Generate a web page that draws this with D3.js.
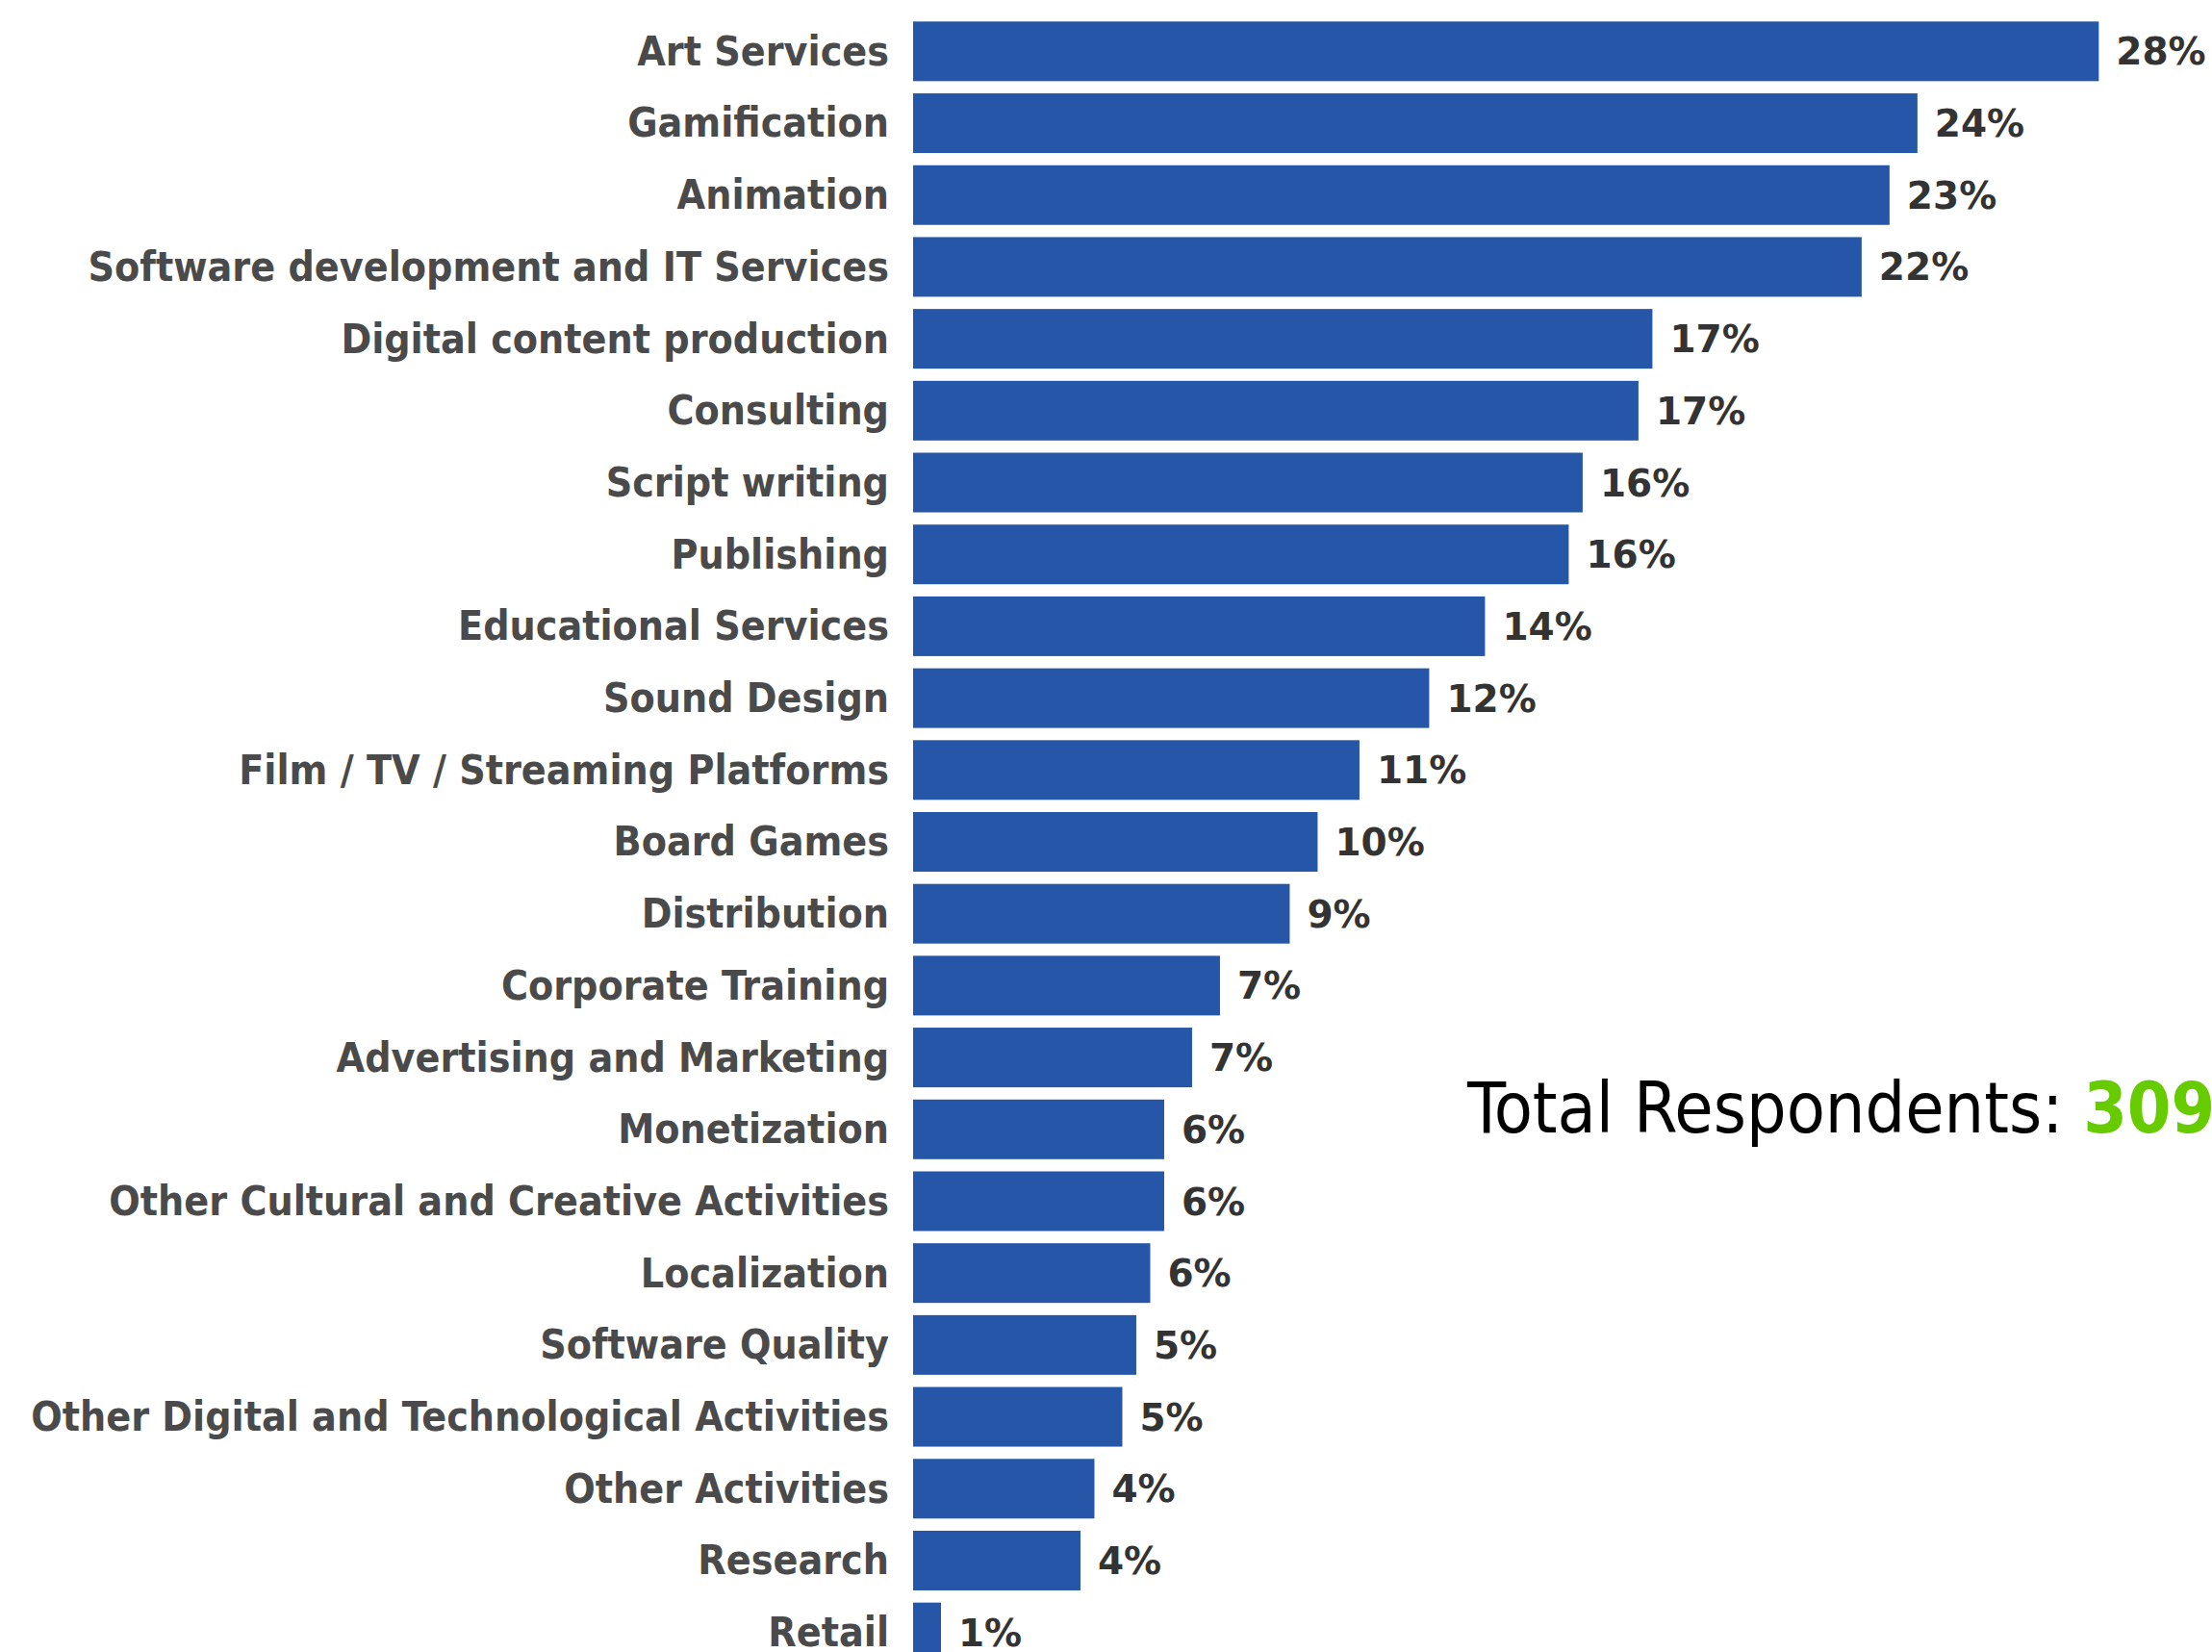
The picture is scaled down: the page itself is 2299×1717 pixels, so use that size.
<!DOCTYPE html>
<html>
<head>
<meta charset="utf-8">
<script src="https://cdn.jsdelivr.net/npm/d3@7"></script>
<style>
  html, body { margin: 0; padding: 0; background: #ffffff; overflow: hidden; }
  svg { display: block; }
  .cat { font-family: "DejaVu Sans", sans-serif; font-stretch: condensed; font-weight: bold; fill: #4a4a4a; }
  .val { font-family: "DejaVu Sans", sans-serif; font-weight: bold; fill: #333333; font-variant-numeric: slashed-zero; }
  .total { font-family: "DejaVu Sans", sans-serif; font-stretch: condensed; fill: #000000; font-variant-numeric: slashed-zero; }
</style>
</head>
<body>
<script>
// Activity areas of respondents, share of all respondents (%)
const categories = [
  "Art Services",
  "Gamification",
  "Animation",
  "Software development and IT Services",
  "Digital content production",
  "Consulting",
  "Script writing",
  "Publishing",
  "Educational Services",
  "Sound Design",
  "Film / TV / Streaming Platforms",
  "Board Games",
  "Distribution",
  "Corporate Training",
  "Advertising and Marketing",
  "Monetization",
  "Other Cultural and Creative Activities",
  "Localization",
  "Software Quality",
  "Other Digital and Technological Activities",
  "Other Activities",
  "Research",
  "Retail"
];

const shares = [
  28.05, 23.76, 23.10, 22.44, 17.49, 17.16, 15.84, 15.51, 13.53, 12.21,
  10.56, 9.57, 8.91, 7.26, 6.60, 5.94, 5.94, 5.61, 5.28, 4.95,
  4.29, 3.96, 0.66
];

const totalLabel = "Total Respondents: ";
const totalRespondents = 309;

const W = 2299, H = 1717;

const svg = d3.select("body").append("svg")
  .attr("width", W)
  .attr("height", H);

const x = d3.scaleLinear()
  .domain([0, 30])
  .range([949, 2267]);

const y = d3.scaleBand()
  .domain(categories)
  .range([16, 1734])
  .paddingInner(0.17)
  .paddingOuter(0.085);

const data = categories.map((c, i) => ({ cat: c, v: shares[i] }));
const fmt = v => d3.format(".0f")(v) + "%";

// bars
svg.append("g")
  .selectAll("rect")
  .data(data)
  .join("rect")
  .attr("x", x(0))
  .attr("y", d => y(d.cat))
  .attr("width", d => x(d.v) - x(0))
  .attr("height", y.bandwidth())
  .attr("fill", "#2556a7");

// category labels (left axis, no line or ticks)
const axis = svg.append("g")
  .attr("transform", `translate(${x(0)},0)`)
  .call(d3.axisLeft(y).tickSize(0).tickPadding(25));
axis.select(".domain").remove();
axis.selectAll("text")
  .attr("class", "cat")
  .attr("font-size", 42.5)
  .attr("dy", "0.34em");

// value labels
svg.append("g")
  .selectAll("text")
  .data(data)
  .join("text")
  .attr("class", "val")
  .attr("x", d => x(d.v) + 18)
  .attr("y", d => y(d.cat) + y.bandwidth() / 2)
  .attr("dy", "0.36em")
  .attr("font-size", 39)
  .text(d => fmt(d.v));

// respondent count
const total = svg.append("text")
  .attr("class", "total")
  .attr("x", 1525)
  .attr("y", 1177)
  .attr("font-size", 73);
total.append("tspan").text(totalLabel);
total.append("tspan").attr("fill", "#66cc00").attr("font-weight", "bold").text(totalRespondents);
</script>
</body>
</html>
